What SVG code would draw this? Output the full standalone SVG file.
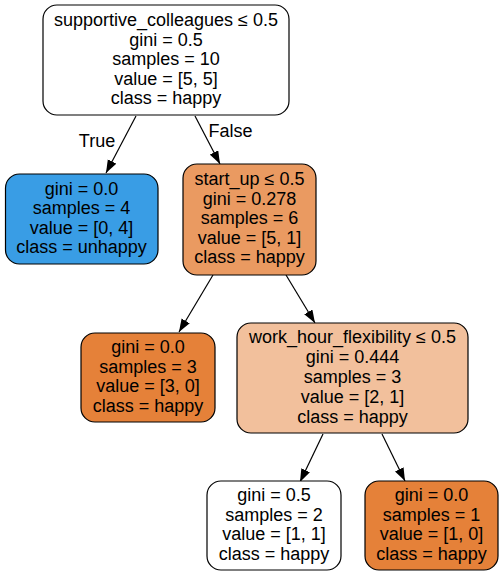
<svg xmlns="http://www.w3.org/2000/svg" width="503" height="577" viewBox="0 0 503 577">
<style>
.n rect{stroke:#000;stroke-width:1.2}
text{font-family:"Liberation Sans",Arial,Helvetica,sans-serif;font-size:18px;fill:#000;text-anchor:middle}
.e line{stroke:#000;stroke-width:1.2;marker-end:url(#ah)}
</style>
<defs>
<marker id="ah" markerUnits="userSpaceOnUse" markerWidth="14" markerHeight="10" refX="13" refY="4.75" orient="auto">
<path d="M0,0 L13,4.75 L0,9.5 z" fill="#000"/>
</marker>
</defs>
<rect width="503" height="577" fill="#fff"/>
<g id="connectors" class="e">
<line x1="136" y1="116" x2="106" y2="173"/>
<line x1="195" y1="116" x2="220" y2="164"/>
<line x1="213" y1="275" x2="179" y2="332"/>
<line x1="286" y1="275" x2="315" y2="323"/>
<line x1="323" y1="434" x2="300" y2="482"/>
<line x1="382" y1="434" x2="405" y2="481"/>
<text x="97" y="147">True</text>
<text x="230.5" y="137">False</text>
</g>
<g id="node0" class="n">
<rect x="43" y="5" width="246" height="110" rx="14" fill="#ffffff"/>
<text x="166" y="26">supportive_colleagues ≤ 0.5</text>
<text x="166" y="45.5">gini = 0.5</text>
<text x="166" y="65">samples = 10</text>
<text x="166" y="84.5">value = [5, 5]</text>
<text x="166" y="104">class = happy</text>
</g>
<g id="node1" class="n">
<rect x="5.5" y="174" width="152.5" height="90" rx="14" fill="#399de5"/>
<text x="81.5" y="194.5">gini = 0.0</text>
<text x="81.5" y="214">samples = 4</text>
<text x="81.5" y="233.5">value = [0, 4]</text>
<text x="81.5" y="253">class = unhappy</text>
</g>
<g id="node2" class="n">
<rect x="183" y="164" width="133" height="111" rx="14" fill="#ea9a61"/>
<text x="249.5" y="185">start_up ≤ 0.5</text>
<text x="249.5" y="204.5">gini = 0.278</text>
<text x="249.5" y="224">samples = 6</text>
<text x="249.5" y="243.5">value = [5, 1]</text>
<text x="249.5" y="263">class = happy</text>
</g>
<g id="node3" class="n">
<rect x="81" y="333" width="134" height="89" rx="14" fill="#e58139"/>
<text x="148" y="353">gini = 0.0</text>
<text x="148" y="372.7">samples = 3</text>
<text x="148" y="392.4">value = [3, 0]</text>
<text x="148" y="412.1">class = happy</text>
</g>
<g id="node4" class="n">
<rect x="237" y="323" width="231" height="110" rx="14" fill="#f2c09c"/>
<text x="352.5" y="342.5">work_hour_flexibility ≤ 0.5</text>
<text x="352.5" y="362.5">gini = 0.444</text>
<text x="352.5" y="382.5">samples = 3</text>
<text x="352.5" y="402.5">value = [2, 1]</text>
<text x="352.5" y="422.5">class = happy</text>
</g>
<g id="node5" class="n">
<rect x="207" y="481" width="134" height="89" rx="14" fill="#ffffff"/>
<text x="274" y="501">gini = 0.5</text>
<text x="274" y="520.7">samples = 2</text>
<text x="274" y="540.4">value = [1, 1]</text>
<text x="274" y="560.1">class = happy</text>
</g>
<g id="node6" class="n">
<rect x="365" y="481" width="133" height="89" rx="14" fill="#e58139"/>
<text x="431.5" y="501">gini = 0.0</text>
<text x="431.5" y="520.7">samples = 1</text>
<text x="431.5" y="540.4">value = [1, 0]</text>
<text x="431.5" y="560.1">class = happy</text>
</g>
</svg>
